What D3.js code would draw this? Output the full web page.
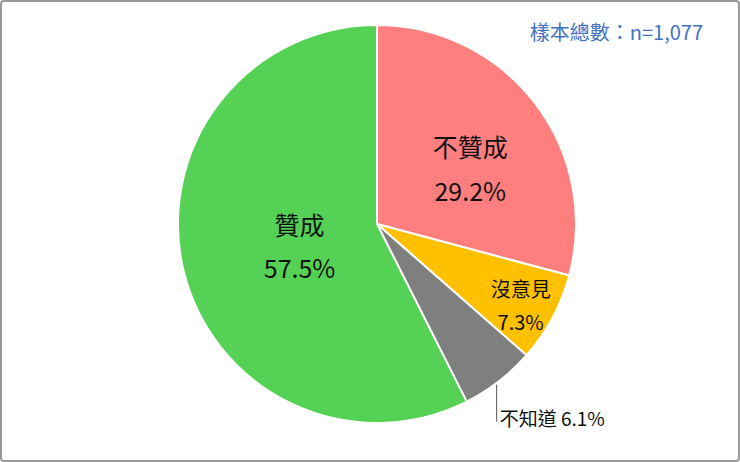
<!DOCTYPE html>
<html>
<head>
<meta charset="utf-8">
<script src="https://cdn.jsdelivr.net/npm/d3@7"></script>
<style>
  html, body { margin: 0; padding: 0; background: #fff; }
  svg { display: block; font-family: "Noto Sans CJK TC", "Noto Sans", sans-serif; }
</style>
</head>
<body>
<svg width="740" height="462"></svg>
<script>
// data
const categories = ['不贊成', '沒意見', '不知道', '贊成'];
const shares = [29.2, 7.3, 6.1, 57.5];
const colors = ['#ff7f7f', '#ffc000', '#7f7f7f', '#55d155'];
const sampleNote = '樣本總數：n=1,077';

const svg = d3.select('svg');
const width = 740, height = 462;
const cx = 377, cy = 224, radius = 199;

// frame
svg.append('rect')
  .attr('x', 1).attr('y', 1)
  .attr('width', width - 2).attr('height', height - 2)
  .attr('rx', 3)
  .attr('fill', '#fff')
  .attr('stroke', '#9a9a9a')
  .attr('stroke-width', 2);

const data = categories.map((c, i) => ({ name: c, value: shares[i], color: colors[i] }));

const pie = d3.pie().sort(null).value(d => d.value);
const arcs = pie(data);
const arc = d3.arc().innerRadius(0).outerRadius(radius);

const g = svg.append('g').attr('transform', `translate(${cx},${cy})`);

g.selectAll('path.slice')
  .data(arcs)
  .enter()
  .append('path')
  .attr('class', 'slice')
  .attr('d', arc)
  .attr('fill', d => d.data.color)
  .attr('stroke', '#fff')
  .attr('stroke-width', 2)
  .attr('stroke-linejoin', 'round');

// label positions (radius fraction, font size, nudges) per slice
const labelStyle = {
  '不贊成': { r: 0.54, size: 25, gap: 44, dx: 8, dy: 12 },
  '沒意見': { r: 0.83, size: 20, gap: 33, dx: -2, dy: 5 },
  '贊成':   { r: 0.40, size: 25, gap: 43, dx: 0, dy: 5 }
};

arcs.forEach(a => {
  const st = labelStyle[a.data.name];
  if (!st) return;
  const la = d3.arc().innerRadius(radius * st.r).outerRadius(radius * st.r);
  const [x, y] = la.centroid(a);
  const t = g.append('g').attr('transform', `translate(${x + st.dx},${y + st.dy})`);
  t.append('text')
    .attr('text-anchor', 'middle')
    .attr('y', -st.gap / 2)
    .attr('dy', '0.35em')
    .attr('font-size', st.size)
    .attr('fill', '#111')
    .text(a.data.name);
  t.append('text')
    .attr('text-anchor', 'middle')
    .attr('y', st.gap / 2)
    .attr('dy', '0.35em')
    .attr('font-size', st.size)
    .attr('fill', '#111')
    .text(d3.format('.1f')(a.data.value) + '%');
});

// outside label for the small grey slice
const grey = arcs[2];
const outArc = d3.arc().innerRadius(radius * 0.99).outerRadius(radius * 0.99);
const [ox, oy] = outArc.centroid(grey);
g.append('line')
  .attr('x1', ox - 1).attr('y1', oy + 5)
  .attr('x2', ox - 1).attr('y2', oy + 42)
  .attr('stroke', '#555')
  .attr('stroke-width', 1);
g.append('text')
  .attr('x', ox + 2)
  .attr('y', oy + 40)
  .attr('dy', '0.35em')
  .attr('font-size', 19)
  .attr('fill', '#111')
  .text(grey.data.name + ' ' + d3.format('.1f')(grey.data.value) + '%');

// sample size note
svg.append('text')
  .attr('x', 703)
  .attr('y', 33)
  .attr('dy', '0.35em')
  .attr('text-anchor', 'end')
  .attr('font-size', 20)
  .attr('fill', '#4472c4')
  .text(sampleNote);
</script>
</body>
</html>
